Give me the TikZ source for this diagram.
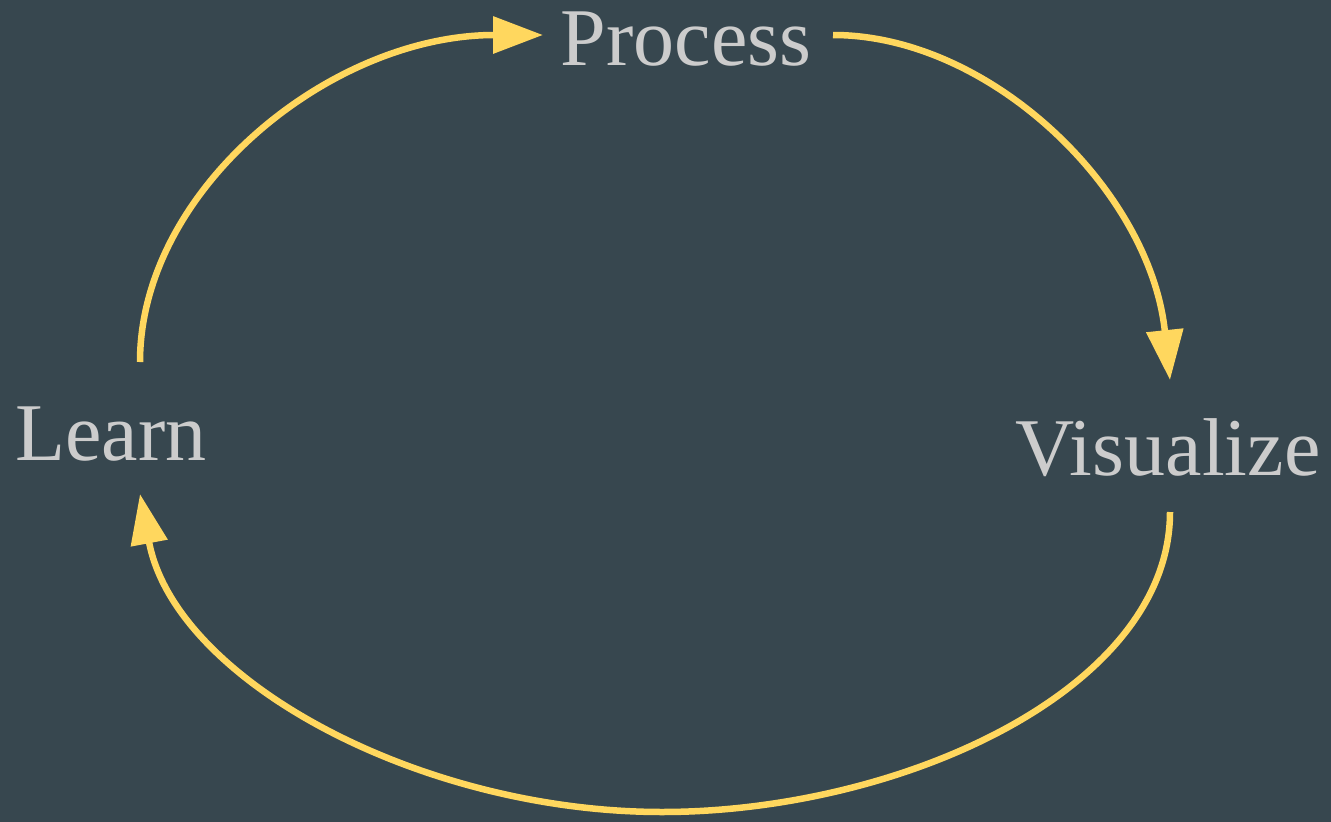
\documentclass[tikz,border=0pt]{standalone}
\usepackage{fontspec}
\setmainfont{Liberation Serif}
\usetikzlibrary{arrows.meta}
\definecolor{bg}{HTML}{37474F}
\definecolor{txt}{HTML}{CCCCCC}
\definecolor{ylw}{HTML}{FFD75E}
\tikzset{
  label/.style={text=txt, font=\fontsize{82}{82}\selectfont, anchor=base, inner sep=0pt},
  cyc/.style={draw=ylw, line width=6.5pt, -{Triangle[length=50pt,width=36pt]}}
}
\begin{document}
\begin{tikzpicture}[x=1pt,y=-1pt]
\fill[bg] (0,0) rectangle (1331,822);
\useasboundingbox (0,0) rectangle (1331,822);
\node[label] (process) at (686,65) {Process};
\node[label] (learn) at (111,460) {Learn};
\node[label] (visualize) at (1168,475) {Visualize};
\coordinate (lout) at (140,362);
\coordinate (pin) at (543,35);
\coordinate (pout) at (833,35);
\coordinate (vin) at (1170,380);
\coordinate (vout) at (1170,512);
\coordinate (bot) at (662,812);
\coordinate (lin) at (140,494);
\draw[cyc] (lout) .. controls (140,190) and (330,35) .. (pin);
\draw[cyc] (pout) .. controls (990,35) and (1150,190) .. (vin);
\draw[cyc] (vout) .. controls (1170,690) and (900,812) .. (bot) .. controls (420,812) and (175,680) .. (lin);
\end{tikzpicture}
\end{document}
